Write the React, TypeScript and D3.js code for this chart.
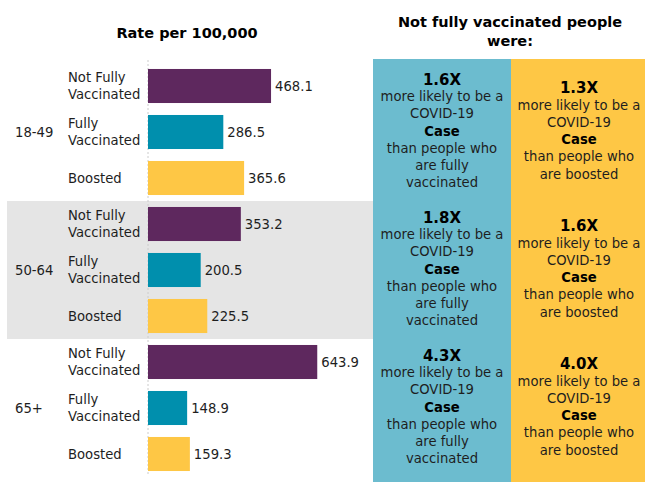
import React from 'react';
import * as d3 from 'd3';

const groups = ['18-49', '50-64', '65+'];
const statuses = ['Not Fully Vaccinated', 'Fully Vaccinated', 'Boosted'];
const statusLabels = [['Not Fully', 'Vaccinated'], ['Fully', 'Vaccinated'], ['Boosted']];
const notFullyRates = [468.1, 353.2, 643.9];
const fullyRates = [286.5, 200.5, 148.9];
const boostedRates = [365.6, 225.5, 159.3];
const vsFully = ['1.6X', '1.8X', '4.3X'];
const vsBoosted = ['1.3X', '1.6X', '4.0X'];
const fullyLines = ['more likely to be a', 'COVID-19', 'Case', 'than people who', 'are fully', 'vaccinated'];
const boostedLines = ['more likely to be a', 'COVID-19', 'Case', 'than people who', 'are boosted'];

const colors = ['#5e285e', '#008fad', '#fec745'];
const font = '"DejaVu Sans", sans-serif';
const fs = 13.2;

const App = () => {
  const width = 645;
  const height = 482;

  // rows: outer band per age group, inner band per vaccination status
  const yGroup = d3.scaleBand().domain(groups).range([63, 477]);
  const yStatus = d3.scaleBand()
    .domain(statuses)
    .range([0, yGroup.bandwidth()])
    .paddingInner(0.26)
    .paddingOuter(0.13);
  const x = d3.scaleLinear().domain([0, 700]).range([148, 332]);

  const rates = groups.map((_, i) => [notFullyRates[i], fullyRates[i], boostedRates[i]]);

  const lineStep = 17.2;
  const panelText = (cx: number, cy: number, head: string, lines: string[]) => {
    const all = [head, ...lines];
    const top = cy - ((all.length - 1) / 2) * lineStep;
    return all.map((t, i) => {
      const bold = i === 0 || t === 'Case';
      return (
        <text
          key={i}
          x={cx}
          y={top + i * lineStep}
          dy="0.35em"
          textAnchor="middle"
          fontSize={i === 0 ? 15 : fs}
          fontWeight={bold ? 'bold' : 'normal'}
          fill={bold ? '#000' : '#1e1e1e'}
        >
          {t}
        </text>
      );
    });
  };

  return (
    <svg
      width={width}
      height={height}
      style={{ position: 'absolute', left: 0, top: 0, fontFamily: font }}
    >
      <rect width={width} height={height} fill="#fff" />

      {/* shaded middle group */}
      <rect
        x={7}
        y={yGroup('50-64')}
        width={366}
        height={yGroup.bandwidth()}
        fill="#e5e5e5"
      />

      {/* right panels */}
      <rect x={373} y={59} width={138} height={height - 59} fill="#6cbccf" />
      <rect x={511} y={59} width={width - 511} height={height - 59} fill="#fec745" />

      {/* titles */}
      <text x={187} y={33} dy="0.35em" textAnchor="middle" fontSize={14.5} fontWeight="bold">
        Rate per 100,000
      </text>
      <text x={510} y={22} dy="0.35em" textAnchor="middle" fontSize={14.5} fontWeight="bold">
        Not fully vaccinated people
      </text>
      <text x={510} y={41} dy="0.35em" textAnchor="middle" fontSize={14.5} fontWeight="bold">
        were:
      </text>

      {/* zero line */}
      <line
        x1={x(0)}
        x2={x(0)}
        y1={60}
        y2={476}
        stroke="#cccccc"
        strokeDasharray="2,2"
      />

      {groups.map((g, gi) => {
        const gy = yGroup(g) as number;
        const cy = gy + yGroup.bandwidth() / 2;
        return (
          <g key={g}>
            <text x={15} y={cy} dy="0.35em" fontSize={fs} fill="#1e1e1e">
              {g}
            </text>
            {statuses.map((s, si) => {
              const by = gy + (yStatus(s) as number);
              const bc = by + yStatus.bandwidth() / 2;
              const v = rates[gi][si];
              const lbl = statusLabels[si];
              return (
                <g key={s}>
                  {lbl.map((l, li) => (
                    <text
                      key={li}
                      x={68}
                      y={bc + (li - (lbl.length - 1) / 2) * 17}
                      dy="0.35em"
                      fontSize={fs}
                      fill="#1e1e1e"
                    >
                      {l}
                    </text>
                  ))}
                  <rect
                    x={x(0)}
                    y={by}
                    width={x(v) - x(0)}
                    height={yStatus.bandwidth()}
                    fill={colors[si]}
                  />
                  <text x={x(v) + 4} y={bc} dy="0.35em" fontSize={fs} fill="#1e1e1e">
                    {v.toFixed(1)}
                  </text>
                </g>
              );
            })}
            {panelText(442, cy - 1, vsFully[gi], fullyLines)}
            {panelText(579, cy - 1, vsBoosted[gi], boostedLines)}
          </g>
        );
      })}
    </svg>
  );
};

export default App;
